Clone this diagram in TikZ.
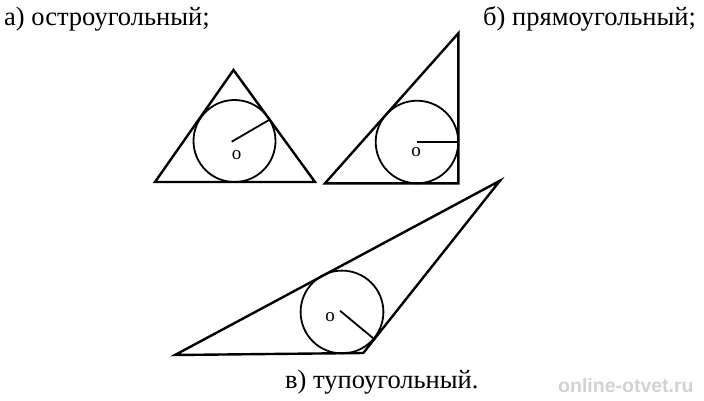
\documentclass[tikz,border=0pt]{standalone}
\usepackage{fontspec}
\setmainfont{Liberation Serif}
\newfontfamily\wmfont{Liberation Sans}
\begin{document}
\begin{tikzpicture}[x=1pt,y=-1pt,
  tri/.style={line width=2.4pt,line join=miter},
  circ/.style={line width=1.8pt},
  rad/.style={line width=1.8pt},
  lbl/.style={anchor=base west,inner sep=0pt,font=\fontsize{26.5}{30}\selectfont},
  olbl/.style={inner sep=0pt,font=\fontsize{19}{22}\selectfont}]
\useasboundingbox (0,0) rectangle (704,400);
% (a) acute
\coordinate (A1) at (155,182);
\coordinate (A2) at (315,182);
\coordinate (A3) at (233.5,70);
\coordinate (OA) at (234.5,141);
\draw[tri] (A1) -- (A2) -- (A3) -- cycle;
\draw[circ] (OA) circle (41);
\coordinate (TA) at (269,120);
\draw[rad] (231.7,141.7) -- (TA);
\node[olbl] (oa) at (236.5,155) {o};
% (b) right
\coordinate (B1) at (325,183.3);
\coordinate (B2) at (458.3,183.3);
\coordinate (B3) at (458.3,33.3);
\coordinate (OB) at (417,142);
\draw[tri] (B1) -- (B2) -- (B3) -- cycle;
\draw[circ] (OB) circle (41.3);
\coordinate (TB) at (458,141.7);
\draw[rad] (416.7,141.7) -- (TB);
\node[olbl] (ob) at (416,152) {o};
% (c) obtuse
\coordinate (C1) at (175,355);
\coordinate (C2) at (363.3,353);
\coordinate (C3) at (500,180.7);
\coordinate (OC) at (342,312);
\draw[tri] (C1) -- (C2) -- (C3) -- cycle;
\draw[circ] (OC) circle (41.4);
\coordinate (TC) at (373.5,338.5);
\draw[rad] (340,310.7) -- (TC);
\node[olbl] (oc) at (330,317) {o};
% labels
\node[lbl] (la) at (4,25) {а) остроугольный;};
\node[lbl] (lb) at (483,25) {б) прямоугольный;};
\node[lbl] (lc) at (285,388.5) {в) тупоугольный.};
% watermark
\node[anchor=base west,inner sep=0pt,text=gray!35,font=\wmfont\bfseries\fontsize{19.5}{22}\selectfont] (wm) at (558,392) {online-otvet.ru};
\end{tikzpicture}
\end{document}
